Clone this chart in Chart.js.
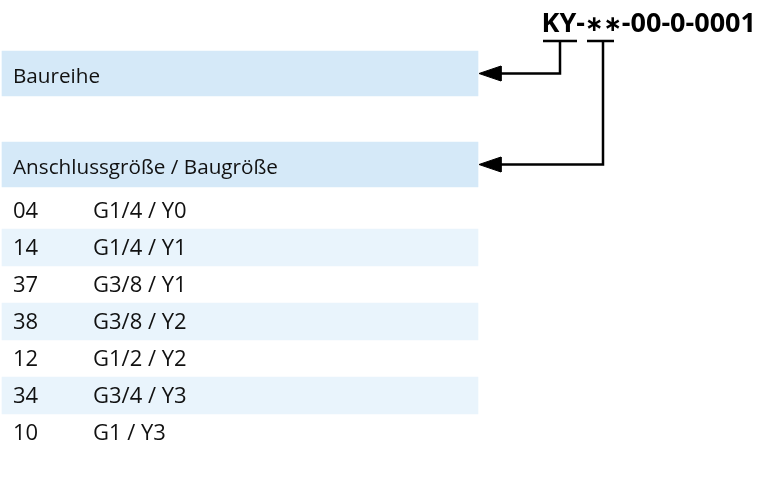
<!doctype html>
<html lang="de">
<head>
<meta charset="utf-8" />
<title>KY Typenschlüssel</title>
<script src="https://cdn.jsdelivr.net/npm/chart.js"></script>
<style>
  html, body { margin: 0; padding: 0; background: #fff; }
  #wrap { width: 761px; height: 495px; }
</style>
</head>
<body>
<div id="wrap"><canvas id="keyChart"></canvas></div>
<script>
// values
const partNumber = 'KY-\u2217\u2217-00-0-0001';
const headerLabels = ['Baureihe', 'Anschlussgröße / Baugröße'];
const sizeCodes = ['04', '14', '37', '38', '12', '34', '10'];
const sizeLabels = ['G1/4 / Y0', 'G1/4 / Y1', 'G3/8 / Y1', 'G3/8 / Y2', 'G1/2 / Y2', 'G3/4 / Y3', 'G1 / Y3'];

// layout (chart units = px, scales hidden)
const W = 761, H = 495;
const bandLeft = 2, bandRight = 478;
const headerTop = 51, headerStep = 91, headerHeight = 45;
const rowTop = 192, rowHeight = 37;
const codeX = 13, labelX = 93;
const bracketY = 41;
const brackets = [
  { from: 543, to: 577, stem: 560 },
  { from: 587, to: 614, stem: 603 },
];
const arrowTip = 479, arrowLen = 22, arrowHalf = 7.5;

const headerCenter = (i) => headerTop + headerStep * i + headerHeight / 2;
const rowCenter = (i) => rowTop + rowHeight * i + rowHeight / 2;

const headerFont = '20.7px "Open Sans", sans-serif';
const rowFont = '22px "Open Sans", sans-serif';
const boldFont = 'bold 27px "Open Sans", sans-serif';
const starFont = 'bold 22px "DejaVu Sans", sans-serif';

const connectorSets = [];
brackets.forEach((b, i) => {
  const y = headerCenter(i);
  connectorSets.push({
    type: 'line',
    data: [{ x: b.from, y: bracketY }, { x: b.to, y: bracketY }],
  });
  connectorSets.push({
    type: 'line',
    data: [{ x: b.stem, y: bracketY }, { x: b.stem, y }, { x: arrowTip + arrowLen - 1, y }],
  });
  connectorSets.push({
    type: 'line',
    fill: 'shape',
    data: [
      { x: arrowTip, y },
      { x: arrowTip + arrowLen, y: y - arrowHalf },
      { x: arrowTip + arrowLen, y: y + arrowHalf },
      { x: arrowTip, y },
    ],
    borderWidth: 1,
  });
});

const textPlugin = {
  id: 'keyText',
  afterDatasetsDraw(chart) {
    const { ctx } = chart;
    const xs = chart.scales.x, ys = chart.scales.y;
    ctx.save();
    ctx.fillStyle = '#111';
    ctx.textBaseline = 'middle';
    ctx.textAlign = 'left';
    ctx.font = headerFont;
    headerLabels.forEach((label, i) => {
      ctx.fillText(label, xs.getPixelForValue(codeX), ys.getPixelForValue(headerCenter(i) + 3.5));
    });
    ctx.font = rowFont;
    sizeCodes.forEach((code, i) => {
      const y = ys.getPixelForValue(rowCenter(i) + 1);
      ctx.fillText(code, xs.getPixelForValue(codeX), y);
      ctx.fillText(sizeLabels[i], xs.getPixelForValue(labelX), y);
    });

    // part number, right aligned, with the placeholder stars set smaller
    ctx.fillStyle = '#000';
    ctx.textBaseline = 'alphabetic';
    const parts = partNumber.split(/(\u2217+)/).filter(Boolean);
    const fontFor = (p) => (p.startsWith('\u2217') ? starFont : boldFont);
    const widths = parts.map((p) => { ctx.font = fontFor(p); return ctx.measureText(p).width; });
    let x = xs.getPixelForValue(756) - widths.reduce((a, b) => a + b, 0);
    const base = ys.getPixelForValue(32);
    parts.forEach((p, i) => {
      ctx.font = fontFor(p);
      ctx.fillText(p, x, p.startsWith('\u2217') ? base - 1.5 : base);
      x += widths[i];
    });
    ctx.restore();
  },
};

new Chart(document.getElementById('keyChart'), {
  data: {
    datasets: [
      {
        type: 'bar',
        indexAxis: 'y',
        data: headerLabels.map((_, i) => ({ x: [bandLeft, bandRight], y: headerCenter(i) })),
        backgroundColor: '#d5e9f8',
        barThickness: headerHeight,
        order: 10,
      },
      {
        type: 'bar',
        indexAxis: 'y',
        data: sizeCodes.map((_, i) => ({ x: [bandLeft, bandRight], y: rowCenter(i) }))
          .filter((_, i) => i % 2 === 1),
        backgroundColor: '#e9f4fc',
        barThickness: rowHeight,
        order: 10,
      },
      ...connectorSets.map((set) => ({
        borderColor: '#000',
        backgroundColor: '#000',
        borderWidth: 2.5,
        pointRadius: 0,
        tension: 0,
        fill: false,
        order: 1,
        ...set,
      })),
    ],
  },
  plugins: [textPlugin],
  options: {
    responsive: true,
    maintainAspectRatio: false,
    animation: false,
    grouped: false,
    layout: { padding: 0 },
    plugins: { legend: { display: false }, tooltip: { enabled: false } },
    scales: {
      x: { type: 'linear', min: 0, max: W, offset: false, display: false },
      y: { type: 'linear', min: 0, max: H, offset: false, reverse: true, display: false },
    },
  },
});
</script>
</body>
</html>
